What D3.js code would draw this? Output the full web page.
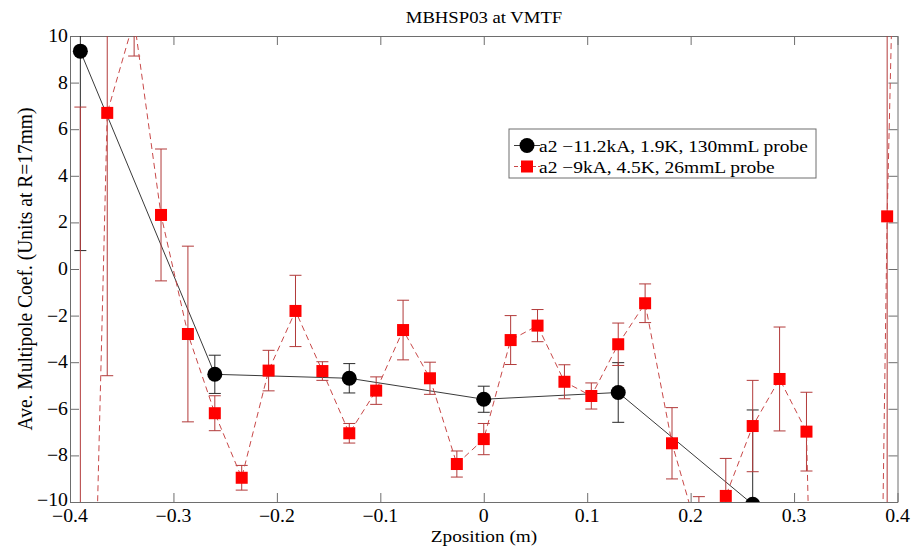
<!DOCTYPE html>
<html>
<head>
<meta charset="utf-8">
<script src="https://cdn.jsdelivr.net/npm/d3@7"></script>
<style>
  html, body { margin: 0; padding: 0; background: #fff; }
</style>
</head>
<body>
<svg id="chart" width="913" height="555"></svg>
<script>
// a2 coefficient along the magnet, two probe measurements
const probe130X   = [-0.39, -0.26, -0.13, 0, 0.13, 0.26];
const probe130Y   = [9.35, -4.52, -4.69, -5.59, -5.30, -10.1];
const probe130Err = [8.56, 0.82, 0.63, 0.56, 1.28, 4.05];

const probe26X = [-0.390, -0.364, -0.338, -0.312, -0.286, -0.260, -0.234, -0.208,
                  -0.182, -0.156, -0.130, -0.104, -0.078, -0.052, -0.026, 0,
                   0.026,  0.052,  0.078,  0.104,  0.130,  0.156,  0.182, 0.208,
                   0.234,  0.260,  0.286,  0.312,  0.338,  0.364,  0.390, 0.416];
const probe26Y = [-40, 6.70, 10.7, 2.32, -2.79, -6.19, -8.96, -4.36,
                  -1.80, -4.38, -7.05, -5.22, -2.62, -4.69, -8.37, -7.30,
                  -3.05, -2.43, -4.84, -5.45, -3.23, -1.47, -7.48, -11.5,
                  -9.74, -6.74, -4.72, -6.98, -57, -78, 2.26, 52];
const probe26Err = [46.95, 11.28, 1.56, 2.83, 3.77, 0.75, 0.53, 0.87,
                    1.53, 0.40, 0.42, 0.59, 1.28, 0.69, 0.56, 0.67,
                    1.05, 0.69, 0.73, 0.56, 0.91, 0.83, 1.53, 1.73,
                    1.61, 1.96, 2.23, 1.69, 3, 3, 16, 5];

const xTicks = [-0.4, -0.3, -0.2, -0.1, 0, 0.1, 0.2, 0.3, 0.4];
const yTicks = [-10, -8, -6, -4, -2, 0, 2, 4, 6, 8, 10];

const titleText = "MBHSP03 at VMTF";
const xLabelText = "Zposition (m)";
const yLabelText = "Ave. Multipole Coef. (Units at R=17mm)";
const legendLabels = ["a2 \u221211.2kA, 1.9K, 130mmL probe", "a2 \u22129kA, 4.5K, 26mmL probe"];

const FONT = "'Liberation Serif', 'Times New Roman', Times, 'DejaVu Serif', serif";

const svg = d3.select("#chart");
const plot = { left: 70, right: 897.5, top: 36, bottom: 502 };
const stretch = 1.1;   // glyphs are drawn slightly wide

const x = d3.scaleLinear().domain([-0.4, 0.4]).range([plot.left, plot.right]);
const y = d3.scaleLinear().domain([-10, 10]).range([plot.bottom, plot.top]);

const fmt = v => (v < 0 ? "\u2212" : "") + String(Math.abs(v));

function label(parent, str, px, py, size, anchor, rotate) {
  const g = parent.append("g")
    .attr("transform", `translate(${px},${py}) scale(${stretch},1)` + (rotate ? ` rotate(${rotate})` : ""));
  g.append("text")
    .attr("text-anchor", anchor)
    .attr("font-family", FONT)
    .attr("font-size", size)
    .attr("fill", "#000")
    .text(str);
  return g;
}

// clip region for the data
svg.append("defs").append("clipPath").attr("id", "plotClip")
  .append("rect")
  .attr("x", plot.left).attr("y", plot.top)
  .attr("width", plot.right - plot.left).attr("height", plot.bottom - plot.top);

// axes (inward ticks on all four sides)
const tickLen = 9;
const axisColor = "#6e6e6e";
const bottomAxis = d3.axisBottom(x).tickValues(xTicks).tickSizeInner(-tickLen).tickSizeOuter(0).tickFormat("");
const topAxis = d3.axisTop(x).tickValues(xTicks).tickSizeInner(-tickLen).tickSizeOuter(0).tickFormat("");
const leftAxis = d3.axisLeft(y).tickValues(yTicks).tickSizeInner(-tickLen).tickSizeOuter(0).tickFormat("");
const rightAxis = d3.axisRight(y).tickValues(yTicks).tickSizeInner(-tickLen).tickSizeOuter(0).tickFormat("");

function styleAxis(g) {
  g.selectAll("path, line").attr("stroke", axisColor).attr("stroke-width", 1);
}
svg.append("g").attr("transform", `translate(0,${plot.bottom})`).call(bottomAxis).call(styleAxis);
svg.append("g").attr("transform", `translate(0,${plot.top})`).call(topAxis).call(styleAxis);
svg.append("g").attr("transform", `translate(${plot.left},0)`).call(leftAxis).call(styleAxis);
svg.append("g").attr("transform", `translate(${plot.right},0)`).call(rightAxis).call(styleAxis);

// tick labels
xTicks.forEach(v => label(svg, fmt(v), x(v), 522, 18, "middle"));
yTicks.forEach(v => label(svg, fmt(v), plot.left - 2, y(v) + (v === -10 ? 4 : 6), 18, "end"));

// titles
label(svg, titleText, 484, 23, 17, "middle");
label(svg, xLabelText, 484, 542, 17.5, "middle");
label(svg, yLabelText, 32, (plot.top + plot.bottom) / 2, 19.5, "middle", -90);

const data = svg.append("g").attr("clip-path", "url(#plotClip)");

function drawSeries(xs, ys, errs, opt) {
  const pts = xs.map((xv, i) => ({ x: xv, y: ys[i], e: errs[i] }));
  const g = data.append("g");
  // error bars
  const eb = g.append("g").attr("stroke", opt.errColor).attr("stroke-width", 1).attr("fill", "none");
  const cap = 6;
  pts.forEach(p => {
    const px = x(p.x), lo = y(p.y - p.e), hi = y(p.y + p.e);
    eb.append("line").attr("x1", px).attr("x2", px).attr("y1", lo).attr("y2", hi);
    eb.append("line").attr("x1", px - cap).attr("x2", px + cap).attr("y1", lo).attr("y2", lo);
    eb.append("line").attr("x1", px - cap).attr("x2", px + cap).attr("y1", hi).attr("y2", hi);
  });
  // connecting line
  g.append("path")
    .datum(pts)
    .attr("fill", "none")
    .attr("stroke", opt.lineColor)
    .attr("stroke-width", 1)
    .attr("stroke-dasharray", opt.dash || null)
    .attr("d", d3.line().x(d => x(d.x)).y(d => y(d.y)));
  // markers
  const inView = pts.filter(p => p.y >= -10.5 && p.y <= 10.5);
  if (opt.marker === "circle") {
    g.selectAll("circle").data(inView).join("circle")
      .attr("cx", d => x(d.x)).attr("cy", d => y(d.y)).attr("r", 7.5)
      .attr("fill", opt.markerColor);
  } else {
    const s = 12;
    g.selectAll("rect").data(inView).join("rect")
      .attr("x", d => x(d.x) - s / 2).attr("y", d => y(d.y) - s / 2)
      .attr("width", s).attr("height", s)
      .attr("fill", opt.markerColor);
  }
}

drawSeries(probe130X, probe130Y, probe130Err,
  { lineColor: "#3a3a3a", errColor: "#2a2a2a", markerColor: "#000", marker: "circle" });
drawSeries(probe26X, probe26Y, probe26Err,
  { lineColor: "#c84848", errColor: "#b23a3a", markerColor: "#ff0000", marker: "square", dash: "6,4" });

// legend
const lg = svg.append("g");
lg.append("rect").attr("x", 509).attr("y", 129).attr("width", 307).attr("height", 49)
  .attr("fill", "#fff").attr("stroke", axisColor).attr("stroke-width", 1);
const rows = [
  { cy: 145.5, line: "#3a3a3a", dash: null, marker: "circle", color: "#000" },
  { cy: 166.5, line: "#c84848", dash: "4,2", marker: "square", color: "#ff0000" }
];
rows.forEach((r, i) => {
  lg.append("line").attr("x1", 514).attr("x2", 540).attr("y1", r.cy).attr("y2", r.cy)
    .attr("stroke", r.line).attr("stroke-width", 1).attr("stroke-dasharray", r.dash);
  if (r.marker === "circle") {
    lg.append("circle").attr("cx", 527).attr("cy", r.cy).attr("r", 7.5).attr("fill", r.color);
  } else {
    lg.append("rect").attr("x", 521).attr("y", r.cy - 6).attr("width", 12).attr("height", 12).attr("fill", r.color);
  }
  label(lg, legendLabels[i], 539, r.cy + 6, 17.7, "start");
});
</script>
</body>
</html>
